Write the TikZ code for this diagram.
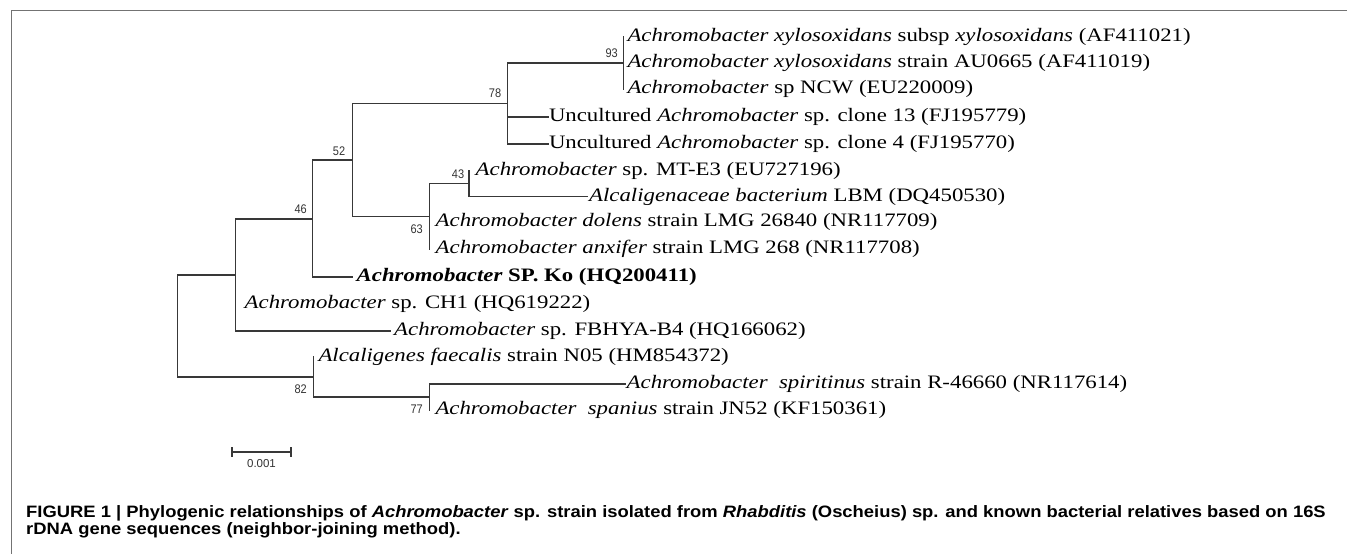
\documentclass[tikz,border=0pt]{standalone}
\usepackage{fontspec}
\setmainfont{Liberation Serif}[FakeStretch=1.2]
\newfontfamily\capfont{Liberation Sans}[FakeStretch=1.115]
\newfontfamily\bsfont{Liberation Sans}[FakeStretch=0.88]
\newfontfamily\sbfont{Liberation Sans}
\tikzset{
  br/.style={line width=1.2pt, draw=black!78, line cap=rect},
  leaf/.style={anchor=west, inner sep=0pt, font=\fontsize{19}{21}\selectfont},
  bsv/.style={inner sep=0pt, font=\bsfont\fontsize{12.5}{13}\selectfont, text=black!80},
  framel/.style={line width=1.2pt, draw=black!55},
  capl/.style={anchor=base west, inner sep=0pt, font=\capfont\bfseries\fontsize{16.5}{17}\selectfont},
}
\begin{document}
\begin{tikzpicture}[x=1pt,y=-1pt]
\useasboundingbox (0,0) rectangle (1347,554);
% frame
\draw[framel] (1347,10.7) -- (11.7,10.7) -- (11.7,554);
% internal nodes
\coordinate (root) at (177.5,326);
\coordinate (n46) at (235.5,275);
\coordinate (n52) at (312.7,219);
\coordinate (nA) at (352.5,160);
\coordinate (n78) at (507.8,103.3);
\coordinate (n93) at (623.3,63);
\coordinate (n63) at (429.5,216.7);
\coordinate (n43) at (469,183.5);
\coordinate (n82) at (313.3,377);
\coordinate (n77) at (429.3,397);
% leaf tips
\coordinate (t1) at (623.3,37);
\coordinate (t2) at (623.3,63);
\coordinate (t3) at (623.3,89);
\coordinate (t4) at (548.3,117);
\coordinate (t5) at (548.3,144);
\coordinate (t6) at (469,170.5);
\coordinate (t7) at (587,196.5);
\coordinate (t8) at (429.5,222);
\coordinate (t9) at (429.5,249);
\coordinate (t10) at (352,277);
\coordinate (t11) at (235.5,304);
\coordinate (t12) at (390.5,331);
\coordinate (t13) at (313.3,357);
\coordinate (t14) at (625,384);
\coordinate (t15) at (429.3,410);
% branches
\draw[br] (t1) -| (n93) |- (t3);
\draw[br] (n93) -| (n78) |- (t5);
\draw[br] (t4) -| (n78);
\draw[br] (n78) -| (nA) |- (n63);
\draw[br] (t6) -| (n43) |- (t7);
\draw[br] (n43) -| (n63) |- (t9);
\draw[br] (nA) -| (n52) |- (t10);
\draw[br] (n52) -| (n46) |- (t12);
\draw[br] (n46) -| (root) |- (n82);
\draw[br] (t13) -| (n82) |- (n77);
\draw[br] (t14) -| (n77) |- (t15);
% leaf labels
\node[leaf] (L1) at ([xshift=4pt]t1) {\textit{Achromobacter xylosoxidans} subsp \textit{xylosoxidans} (AF411021)};
\node[leaf] (L2) at ([xshift=4pt]t2) {\textit{Achromobacter xylosoxidans} strain AU0665 (AF411019)};
\node[leaf] (L3) at ([xshift=4pt]t3) {\textit{Achromobacter} sp NCW (EU220009)};
\node[leaf] (L4) at ([xshift=0.5pt]t4) {Uncultured \textit{Achromobacter} sp. clone 13 (FJ195779)};
\node[leaf] (L5) at ([xshift=0.5pt]t5) {Uncultured \textit{Achromobacter} sp. clone 4 (FJ195770)};
\node[leaf] (L6) at ([xshift=6.5pt]t6) {\textit{Achromobacter} sp. MT-E3 (EU727196)};
\node[leaf] (L7) at ([xshift=2pt]t7) {\textit{Alcaligenaceae bacterium} LBM (DQ450530)};
\node[leaf] (L8) at ([xshift=6pt]t8) {\textit{Achromobacter dolens} strain LMG 26840 (NR117709)};
\node[leaf] (L9) at ([xshift=6pt]t9) {\textit{Achromobacter anxifer} strain LMG 268 (NR117708)};
\node[leaf] (L10) at ([xshift=4.5pt]t10) {\textbf{\textit{Achromobacter} SP. Ko (HQ200411)}};
\node[leaf] (L11) at ([xshift=9pt]t11) {\textit{Achromobacter} sp. CH1 (HQ619222)};
\node[leaf] (L12) at ([xshift=3.5pt]t12) {\textit{Achromobacter} sp. FBHYA-B4 (HQ166062)};
\node[leaf] (L13) at ([xshift=5pt]t13) {\textit{Alcaligenes faecalis} strain N05 (HM854372)};
\node[leaf] (L14) at ([xshift=1.5pt]t14) {\textit{Achromobacter\ \ spiritinus} strain R-46660 (NR117614)};
\node[leaf] (L15) at ([xshift=6pt]t15) {\textit{Achromobacter\ \ spanius} strain JN52 (KF150361)};
% bootstrap values
\node[bsv] (b93) at (611.7,53.3) {93};
\node[bsv] (b78) at (495,93.3) {78};
\node[bsv] (b52) at (339,151) {52};
\node[bsv] (b46) at (300.7,209) {46};
\node[bsv] (b43) at (458,174) {43};
\node[bsv] (b63) at (416.7,229.3) {63};
\node[bsv] (b82) at (300.7,389.3) {82};
\node[bsv] (b77) at (416.7,409.3) {77};
% scale bar
\coordinate (sb1) at (232,452);
\coordinate (sb2) at (291,452);
\draw[br] (sb1) -- (sb2);
\draw[br] ([yshift=-4.3pt]sb1) -- ([yshift=4.3pt]sb1);
\draw[br] ([yshift=-4.3pt]sb2) -- ([yshift=4.3pt]sb2);
\node[inner sep=0pt, font=\sbfont\fontsize{11.5}{12}\selectfont, text=black!80] (sbl) at (261.5,463.5) {0.001};
% caption
\node[capl] (cap1) at (26,517.3) {FIGURE 1 | Phylogenic relationships of \textit{Achromobacter} sp. strain isolated from \textit{Rhabditis} (Oscheius) sp. and known bacterial relatives based on 16S};
\node[capl] (cap2) at (26,534.5) {rDNA gene sequences (neighbor-joining method).};
\end{tikzpicture}
\end{document}
